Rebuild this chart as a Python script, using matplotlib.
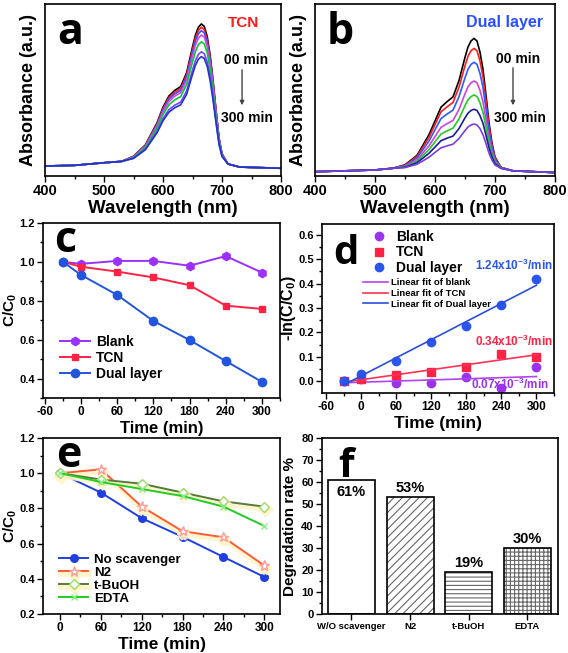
import matplotlib
matplotlib.use("Agg")
import matplotlib.pyplot as plt
import matplotlib.patheffects as pe
from matplotlib.lines import Line2D
from matplotlib.ticker import MultipleLocator
import numpy as np

# ---------------- data ----------------
# UV-vis spectra (absorbance in arbitrary units)
wl = [400, 450, 500, 530, 550, 570, 590, 600, 610, 620, 630, 640, 650, 655,
      660, 665, 670, 675, 680, 685, 690, 695, 700, 710, 730, 800]

tcn_t0 = [.058, .062, .077, .085, .115, .18, .31, .40, .465, .498, .52, .60, .75, .82,
          .865, .884, .87, .81, .70, .55, .38, .22, .13, .07, .052, .045]
tcn_t1 = [.058, .062, .077, .085, .114, .177, .304, .392, .456, .488, .509, .588, .734, .803,
          .846, .865, .851, .793, .685, .539, .373, .216, .128, .07, .052, .045]
tcn_t2 = [.058, .062, .077, .085, .112, .174, .298, .384, .446, .477, .498, .575, .718, .784,
          .827, .845, .832, .775, .670, .527, .365, .212, .127, .07, .052, .045]
tcn_t3 = [.058, .062, .077, .085, .111, .171, .291, .373, .433, .464, .484, .558, .696, .761,
          .802, .820, .807, .752, .650, .512, .355, .208, .125, .07, .052, .045]
tcn_t4 = [.058, .062, .077, .085, .108, .165, .279, .357, .414, .443, .462, .532, .663, .724,
          .764, .780, .768, .716, .619, .488, .340, .200, .121, .07, .052, .045]
tcn_t5 = [.058, .062, .077, .085, .104, .156, .261, .333, .386, .412, .430, .494, .615, .671,
          .707, .722, .711, .663, .575, .454, .317, .189, .116, .07, .052, .045]
tcn_t6 = [.058, .062, .077, .085, .102, .152, .252, .321, .371, .397, .414, .475, .591, .644,
          .679, .694, .683, .637, .552, .437, .306, .183, .114, .07, .052, .045]

dual_t0 = [.025, .03, .035, .045, .065, .12, .24, .32, .40, .432, .46, .555, .69, .75,
           .785, .80, .785, .72, .62, .47, .31, .19, .11, .05, .03, .02]
dual_t1 = [.025, .03, .035, .045, .063, .114, .225, .299, .373, .402, .428, .516, .641, .696,
           .728, .742, .728, .668, .576, .437, .289, .179, .105, .05, .03, .02]
dual_t2 = [.025, .03, .035, .045, .060, .105, .203, .269, .334, .360, .383, .461, .571, .620,
           .649, .661, .649, .596, .514, .391, .261, .163, .097, .048, .03, .02]
dual_t3 = [.025, .03, .035, .045, .057, .094, .175, .229, .283, .304, .323, .387, .478, .519,
           .542, .552, .542, .498, .431, .330, .222, .141, .087, .047, .03, .02]
dual_t4 = [.025, .03, .035, .045, .054, .085, .153, .199, .244, .262, .278, .332, .409, .443,
           .462, .471, .462, .426, .369, .284, .193, .125, .080, .046, .03, .02]
dual_t5 = [.025, .03, .035, .045, .051, .077, .132, .168, .205, .220, .232, .276, .338, .365,
           .381, .388, .381, .351, .306, .237, .164, .109, .072, .045, .03, .02]
dual_t6 = [.025, .03, .035, .045, .049, .068, .109, .137, .164, .175, .185, .218, .264, .285,
           .297, .302, .297, .275, .240, .188, .133, .092, .064, .045, .03, .02]

# degradation curves
time_c = [-30, 0, 60, 120, 180, 240, 300]
blank_c = [1.0, 0.99, 1.005, 1.005, 0.98, 1.03, 0.945]
tcn_c = [1.0, 0.975, 0.95, 0.92, 0.88, 0.775, 0.758]
dual_c = [1.0, 0.933, 0.83, 0.696, 0.598, 0.49, 0.383]

# kinetics -ln(C/C0)
blank_k = [0.0, 0.007, -0.008, -0.008, 0.018, -0.03, 0.056]
tcn_k = [0.0, 0.008, 0.023, 0.037, 0.056, 0.112, 0.10]
dual_k = [0.0, 0.03, 0.082, 0.159, 0.226, 0.312, 0.419]
rate_labels = ["0.07", "0.34", "1.24"]

# scavenger tests
time_e = [0, 60, 120, 180, 240, 300]
no_scav = [1.0, 0.89, 0.744, 0.638, 0.524, 0.41]
n2 = [1.0, 1.022, 0.81, 0.67, 0.636, 0.475]
tbuoh = [1.0, 0.964, 0.94, 0.89, 0.84, 0.81]
edta = [1.0, 0.95, 0.91, 0.87, 0.81, 0.70]

scav_names = ["W/O scavenger", "N2", "t-BuOH", "EDTA"]
scav_rates = [61, 53, 19, 30]

# ---------------- style ----------------
FONT = "Liberation Sans"
plt.rcParams["font.family"] = [FONT, "DejaVu Sans"]
plt.rcParams["font.weight"] = "bold"
plt.rcParams["axes.labelweight"] = "bold"
plt.rcParams["axes.unicode_minus"] = False
plt.rcParams["mathtext.fontset"] = "custom"
plt.rcParams["mathtext.rm"] = "Liberation Sans:bold"
plt.rcParams["mathtext.bf"] = "Liberation Sans:bold"
plt.rcParams["hatch.linewidth"] = 0.8

W, H = 568, 653
fig = plt.figure(figsize=(W / 100, H / 100), dpi=100)


def panel(x0, y0, x1, y1):
    return fig.add_axes([x0 / W, 1 - y1 / H, (x1 - x0) / W, (y1 - y0) / H])


def style(ax, size):
    ax.tick_params(which="both", direction="out", top=False, right=False,
                   width=1.0, labelsize=size, pad=2)
    ax.tick_params(which="major", length=4)
    ax.tick_params(which="minor", length=2)
    for s in ax.spines.values():
        s.set_linewidth(1.2)


def letter(ax, x, y, s, size=30):
    ax.text(x, y, s, transform=ax.transAxes, fontsize=size, fontweight="bold",
            va="baseline", ha="left", family="Open Sans")


# ---------------- a / b : spectra ----------------
colors_a = ["black", "#ff1a1a", "#3355ff", "#dd44dd", "#00cc33", "#7744ee", "#2233cc"]
colors_b = ["black", "#ff1a1a", "#2a5cff", "#cc44dd", "#22cc22", "#1a1a99", "#7a3de0"]
spectra = [
    (panel(45, 4, 281, 176), [tcn_t0, tcn_t1, tcn_t2, tcn_t3, tcn_t4, tcn_t5, tcn_t6],
     colors_a, "a"),
    (panel(315, 4, 555, 176), [dual_t0, dual_t1, dual_t2, dual_t3, dual_t4, dual_t5, dual_t6],
     colors_b, "b"),
]
for ax, curves, cols, lab in spectra:
    for y, c in zip(curves, cols):
        ax.plot(wl, y, color=c, lw=1.2)
    ax.set_xlim(400, 800)
    ax.set_ylim(0, 1)
    ax.set_yticks([])
    ax.xaxis.set_major_locator(MultipleLocator(100))
    ax.xaxis.set_minor_locator(MultipleLocator(50))
    style(ax, 10.5)
    ax.set_xlabel("Wavelength (nm)", fontsize=13.5, labelpad=1)
    ax.set_ylabel("Absorbance (a.u.)", fontsize=13, labelpad=6)
    letter(ax, 0.05, 0.77, lab, 31)

ax_a, ax_b = spectra[0][0], spectra[1][0]
ax_a.text(0.84, 0.89, "TCN", transform=ax_a.transAxes, color="#ff1a1a",
          fontsize=11, ha="center", va="center")
ax_a.text(0.85, 0.675, "00 min", transform=ax_a.transAxes, fontsize=10, ha="center", va="center")
ax_a.text(0.855, 0.337, "300 min", transform=ax_a.transAxes, fontsize=10, ha="center", va="center")
ax_a.annotate("", xy=(0.835, 0.395), xytext=(0.835, 0.634), xycoords="axes fraction",
              arrowprops=dict(arrowstyle="-|>", color="#444444", lw=1, mutation_scale=6))

ax_b.text(0.79, 0.895, "Dual layer", transform=ax_b.transAxes, color="#2a4fff",
          fontsize=11.5, ha="center", va="center")
ax_b.text(0.846, 0.68, "00 min", transform=ax_b.transAxes, fontsize=10, ha="center", va="center")
ax_b.text(0.854, 0.337, "300 min", transform=ax_b.transAxes, fontsize=10, ha="center", va="center")
ax_b.annotate("", xy=(0.825, 0.395), xytext=(0.825, 0.645), xycoords="axes fraction",
              arrowprops=dict(arrowstyle="-|>", color="#444444", lw=1, mutation_scale=6))

# ---------------- c : C/C0 ----------------
ax_c = panel(43, 223, 280, 398)
ax_c.plot(time_c, blank_c, color="#9b30ff", marker="h", ms=6, lw=1.4, label="Blank")
ax_c.plot(time_c, tcn_c, color="#ff2244", marker="s", ms=5, lw=1.4, label="TCN")
ax_c.plot(time_c, dual_c, color="#2255dd", marker="o", ms=6, lw=1.4, label="Dual layer")
ax_c.set_xlim(-63, 330)
ax_c.set_ylim(0.3, 1.2)
ax_c.set_xticks([-60, 0, 60, 120, 180, 240, 300])
ax_c.xaxis.set_minor_locator(MultipleLocator(30))
ax_c.set_yticks([0.4, 0.6, 0.8, 1.0, 1.2])
ax_c.yaxis.set_minor_locator(MultipleLocator(0.1))
style(ax_c, 8.5)
ax_c.tick_params(axis="y", labelsize=8)
ax_c.set_xlabel("Time (min)", fontsize=12, labelpad=2)
ax_c.set_ylabel("C/C$_{\\mathbf{0}}$", fontsize=11)
ax_c.yaxis.set_label_coords(-0.1, 0.5)
ax_c.legend(loc="lower left", bbox_to_anchor=(0.03, 0.04), frameon=False, handlelength=2.2,
            handletextpad=0.4, labelspacing=0.15, borderpad=0.2,
            prop=dict(family=FONT, weight="bold", size=10))
letter(ax_c, 0.045, 0.834, "c", 31)

# ---------------- d : kinetics ----------------
ax_d = panel(322, 224, 554, 393)
kin = [(blank_k, "#9933ee", "#b044f0", "o", 6, "Blank", "blank"),
       (tcn_k, "#ff2244", "#ff3355", "s", 5.5, "TCN", "TCN"),
       (dual_k, "#2a55ee", "#2a4fdd", "o", 6, "Dual layer", "Dual layer")]
mk_handles, ln_handles = [], []
fit_x = np.array([time_c[0], time_c[-1]])
for yk, mc, lc, mk, ms, lab, fitlab in kin:
    ax_d.plot(time_c, yk, ls="none", marker=mk, ms=ms, color=mc)
    slope, icpt = np.polyfit(time_c, yk, 1)
    ax_d.plot(fit_x, slope * fit_x + icpt, color=lc, lw=1.2)
    mk_handles.append(Line2D([], [], ls="none", marker=mk, ms=ms, color=mc, label=lab))
    ln_handles.append(Line2D([], [], color=lc, lw=1.2, label="Linear fit of " + fitlab))
ax_d.set_xlim(-67, 330)
ax_d.set_ylim(-0.049, 0.645)
ax_d.set_xticks([-60, 0, 60, 120, 180, 240, 300])
ax_d.xaxis.set_minor_locator(MultipleLocator(30))
ax_d.yaxis.set_major_locator(MultipleLocator(0.1))
ax_d.yaxis.set_minor_locator(MultipleLocator(0.05))
style(ax_d, 8.5)
ax_d.tick_params(axis="y", labelsize=8)
ax_d.set_xlabel("Time (min)", fontsize=12.5, labelpad=2)
ax_d.set_ylabel("-ln(C/C$_{\\mathbf{0}}$)", fontsize=11.5)
ax_d.yaxis.set_label_coords(-0.105, 0.5)
leg1 = ax_d.legend(handles=mk_handles, loc="upper left", bbox_to_anchor=(0.17, 1.02),
                   frameon=False, handlelength=1.2, handletextpad=0.6, labelspacing=0.08,
                   borderpad=0.2, prop=dict(family=FONT, weight="bold", size=10))
ax_d.add_artist(leg1)
ax_d.legend(handles=ln_handles, loc="upper left", bbox_to_anchor=(0.15, 0.72),
            frameon=False, handlelength=2.6, handletextpad=0.3, labelspacing=0.2,
            borderpad=0.2, prop=dict(family=FONT, weight="bold", size=6.8))
rate_pos = [(0.81, 0.053, "#9933ee"), (0.828, 0.308, "#ff2244"), (0.828, 0.757, "#2a55ee")]
for (x, y, c), r in zip(rate_pos, rate_labels):
    ax_d.text(x, y, r + "x10$^{\\mathbf{-3}}$/min", transform=ax_d.transAxes, color=c,
              fontsize=8.5, ha="center", va="center")
letter(ax_d, 0.047, 0.763, "d", 29)

# ---------------- e : scavengers ----------------
ax_e = panel(43, 438, 280, 614)
glow = [pe.SimpleLineShadow(offset=(0.5, -2), shadow_color="#fff4c8", alpha=0.9, linewidth=3.5),
        pe.Normal()]
ax_e.plot(time_e, no_scav, color="#1f3fe0", marker="o", ms=5.5, lw=1.4, label="No scavenger")
ax_e.plot(time_e, n2, color="#ff5a36", marker="*", ms=7.5, mfc="white", mec="#ff9a9a",
          lw=1.4, label="N2", path_effects=glow)
ax_e.plot(time_e, tbuoh, color="#557a3a", marker="D", ms=5, mfc="white", mec="#99dd66",
          lw=1.4, label="t-BuOH", path_effects=glow)
ax_e.plot(time_e, edta, color="#22cc22", marker="x", ms=5, mec="#88ee88",
          lw=1.4, label="EDTA")
ax_e.set_xlim(-25, 323)
ax_e.set_ylim(0.2, 1.2)
ax_e.set_xticks([0, 60, 120, 180, 240, 300])
ax_e.xaxis.set_minor_locator(MultipleLocator(30))
ax_e.yaxis.set_major_locator(MultipleLocator(0.2))
ax_e.yaxis.set_minor_locator(MultipleLocator(0.1))
style(ax_e, 8.5)
ax_e.tick_params(axis="y", labelsize=8)
ax_e.set_xlabel("Time (min)", fontsize=12.5, labelpad=2)
ax_e.set_ylabel("C/C$_{\\mathbf{0}}$", fontsize=11)
ax_e.yaxis.set_label_coords(-0.1, 0.5)
ax_e.legend(loc="lower left", bbox_to_anchor=(0.03, 0.0), frameon=False, handlelength=2.2,
            handletextpad=0.4, labelspacing=0.05, borderpad=0.2,
            prop=dict(family=FONT, weight="bold", size=9.5))
letter(ax_e, 0.055, 0.835, "e", 31)

# ---------------- f : degradation rate ----------------
ax_f = panel(322, 438, 558, 614)
xpos = np.arange(len(scav_names))
hatches = ["", "////", "----", "++++"]
ax_f.bar(xpos, scav_rates, width=0.8, color="white", edgecolor="#666666", lw=0, hatch=hatches)
ax_f.bar(xpos, scav_rates, width=0.8, fill=False, edgecolor="black", lw=1.2)
for x, v in zip(xpos, scav_rates):
    yy = v - 5.5 if x == 0 else v + 4.3
    ax_f.text(x, yy, f"{v}%", ha="center", va="center", fontsize=10.5)
ax_f.set_xlim(-0.5, 3.52)
ax_f.set_ylim(0, 80)
ax_f.set_xticks(xpos, scav_names)
ax_f.yaxis.set_major_locator(MultipleLocator(10))
ax_f.yaxis.set_minor_locator(MultipleLocator(5))
style(ax_f, 8)
ax_f.tick_params(axis="x", labelsize=6.8)
ax_f.set_ylabel("Degradation rate %", fontsize=11, labelpad=3)
letter(ax_f, 0.068, 0.78, "f", 29)

fig.savefig("out.png", dpi=100)
